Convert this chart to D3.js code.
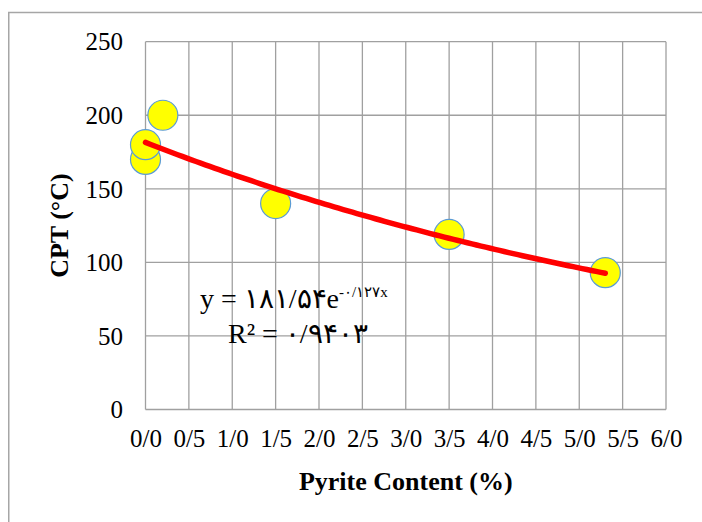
<!DOCTYPE html>
<html>
<head>
<meta charset="utf-8">
<script src="https://cdn.jsdelivr.net/npm/d3@7"></script>
<style>
  html, body { margin: 0; padding: 0; background: #fff; }
  svg { display: block; }
</style>
</head>
<body>
<svg id="chart" width="702" height="522"></svg>
<script>
// Pyrite content (%) vs. CPT (°C)
const pyrite = [0, 0, 0.2, 1.5, 3.5, 5.3];
const cpt = [170, 180, 200, 140, 119, 93];

// Exponential fit y = a·e^(b·x)
const fitA = 181.54;
const fitB = -0.127;
const fitRange = [0, 5.3];

const xTicks = [0, 0.5, 1, 1.5, 2, 2.5, 3, 3.5, 4, 4.5, 5, 5.5, 6];
const xTickLabels = ["0/0", "0/5", "1/0", "1/5", "2/0", "2/5", "3/0", "3/5", "4/0", "4/5", "5/0", "5/5", "6/0"];
const yTicks = [0, 50, 100, 150, 200, 250];

const eqLine1 = "y = ۱۸۱/۵۴e";
const eqExp = "-۰/۱۲۷x";
const eqLine2 = "R² = ۰/۹۴۰۳";

const xTitle = "Pyrite Content (%)";
const yTitle = "CPT (°C)";

const serif = "'Liberation Serif', 'Times New Roman', serif";

const svg = d3.select("#chart");

// outer chart frame (runs off the right and bottom edges)
svg.append("rect")
  .attr("x", 8.75).attr("y", 12.5)
  .attr("width", 720).attr("height", 540)
  .attr("fill", "#fff")
  .attr("stroke", "#a6a6a6").attr("stroke-width", 1.5);

const plot = { left: 145.5, right: 666, top: 41.7, bottom: 409.5 };

const x = d3.scaleLinear().domain([0, 6]).range([plot.left, plot.right]);
const y = d3.scaleLinear().domain([0, 250]).range([plot.bottom, plot.top]);

// gridlines
const grid = svg.append("g").attr("stroke", "#a0a0a0").attr("stroke-width", 1.3);
grid.selectAll("line.v").data(xTicks).join("line")
  .attr("class", "v")
  .attr("x1", d => x(d)).attr("x2", d => x(d))
  .attr("y1", y(0)).attr("y2", y(250));
grid.selectAll("line.h").data(yTicks).join("line")
  .attr("class", "h")
  .attr("x1", x(0)).attr("x2", x(6))
  .attr("y1", d => y(d)).attr("y2", d => y(d));

// axes (labels only, lines come from the grid)
const xAxis = d3.axisBottom(x).tickValues(xTicks)
  .tickFormat((d, i) => xTickLabels[i]).tickSize(0).tickPadding(0);
const gx = svg.append("g").attr("transform", `translate(0,${plot.bottom})`).call(xAxis);
gx.select(".domain").remove();
gx.selectAll("text")
  .attr("y", 37.5).attr("dy", null)
  .attr("font-family", serif).attr("font-size", 25).attr("fill", "#000");

const yAxis = d3.axisLeft(y).tickValues(yTicks).tickSize(0).tickPadding(0);
const gy = svg.append("g").attr("transform", `translate(${plot.left},0)`).call(yAxis);
gy.select(".domain").remove();
gy.selectAll("text")
  .attr("x", -22.5).attr("dy", "0.33em")
  .attr("font-family", serif).attr("font-size", 25).attr("fill", "#000");

// axis titles
svg.append("text")
  .attr("x", (plot.left + plot.right) / 2).attr("y", 490)
  .attr("text-anchor", "middle")
  .attr("font-family", serif).attr("font-size", 26).attr("font-weight", "bold")
  .text(xTitle);

svg.append("text")
  .attr("transform", `translate(68,${(plot.top + plot.bottom) / 2}) rotate(-90)`)
  .attr("text-anchor", "middle")
  .attr("font-family", serif).attr("font-size", 26).attr("font-weight", "bold")
  .text(yTitle);

// data markers
svg.append("g").selectAll("circle")
  .data(pyrite.map((p, i) => [p, cpt[i]]))
  .join("circle")
  .attr("cx", d => x(d[0])).attr("cy", d => y(d[1]))
  .attr("r", 15)
  .attr("fill", "#ffff00")
  .attr("stroke", "#5b9bd5").attr("stroke-width", 1.2);

// exponential trendline
const fitX = d3.range(0, 101).map(i => fitRange[0] + (fitRange[1] - fitRange[0]) * i / 100);
svg.append("path")
  .datum(fitX)
  .attr("d", d3.line().x(d => x(d)).y(d => y(fitA * Math.exp(fitB * d))))
  .attr("fill", "none")
  .attr("stroke", "#ff0000").attr("stroke-width", 5.5)
  .attr("stroke-linecap", "round");

// trendline equation
const eq = svg.append("text")
  .attr("x", 200).attr("y", 308)
  .attr("font-family", serif).attr("font-size", 28).attr("fill", "#000");
eq.append("tspan").text(eqLine1);
eq.append("tspan").attr("dy", -11).attr("font-size", 15).text(eqExp);

svg.append("text")
  .attr("x", 228).attr("y", 343)
  .attr("font-family", serif).attr("font-size", 28).attr("fill", "#000")
  .text(eqLine2);
</script>
</body>
</html>
